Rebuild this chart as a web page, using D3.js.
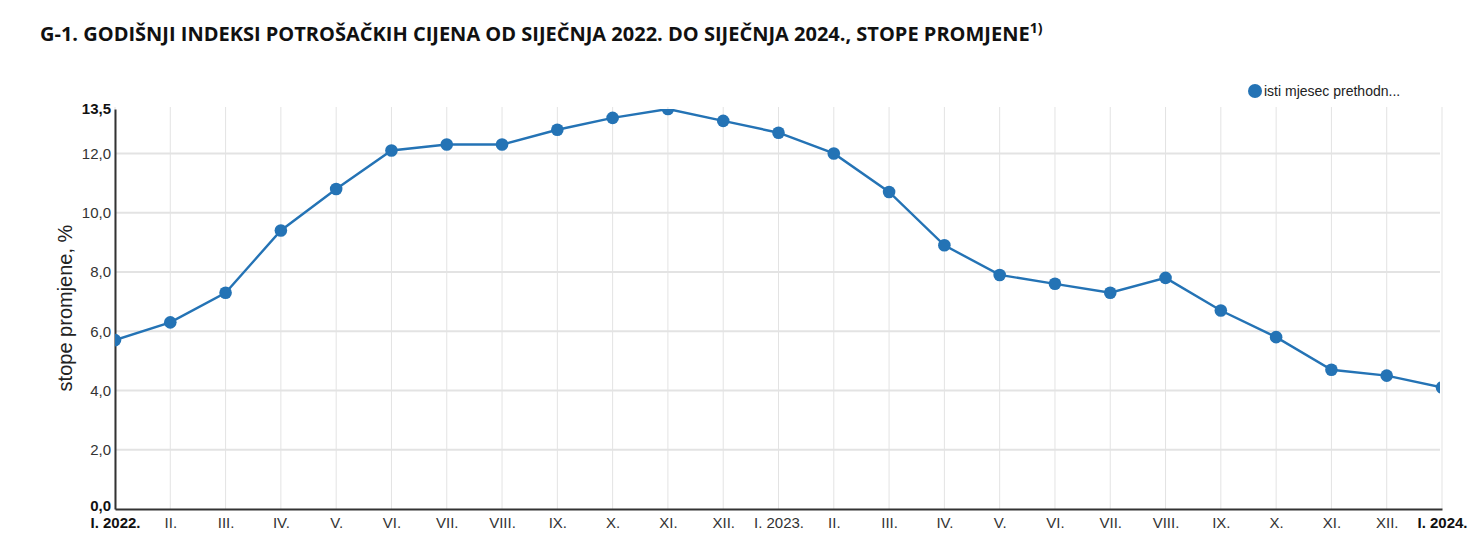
<!DOCTYPE html>
<html>
<head>
<meta charset="utf-8">
<script src="https://cdn.jsdelivr.net/npm/d3@7"></script>
<style>
  body { margin: 0; background: #fff; }
  .title { font-family: "Open Sans", sans-serif; font-weight: 700; font-size: 20px; fill: #111; }
</style>
</head>
<body>
<div id="chart"></div>
<script>
// months from I. 2022. to I. 2024.
const months = ["I. 2022.", "II.", "III.", "IV.", "V.", "VI.", "VII.", "VIII.", "IX.", "X.", "XI.", "XII.",
    "I. 2023.", "II.", "III.", "IV.", "V.", "VI.", "VII.", "VIII.", "IX.", "X.", "XI.", "XII.", "I. 2024."];
// annual rates of change, %
const rates = [5.7, 6.3, 7.3, 9.4, 10.8, 12.1, 12.3, 12.3, 12.8, 13.2, 13.5, 13.1,
    12.7, 12.0, 10.7, 8.9, 7.9, 7.6, 7.3, 7.8, 6.7, 5.8, 4.7, 4.5, 4.1];
const yTicks = [0, 2, 4, 6, 8, 10, 12, 13.5];
const seriesName = "isti mjesec prethodn...";

const W = 1474, H = 550;
const MARGIN = { top: 109, right: 34, bottom: 41, left: 115 },
    WIDTH = W - MARGIN.left - MARGIN.right,
    HEIGHT = H - MARGIN.top - MARGIN.bottom;
const COLOR = "#2473b5";
const FONT = "Liberation Sans, Arial, sans-serif";

const svg = d3.select("#chart").append("svg")
    .attr("width", W)
    .attr("height", H);

// title with superscript
const title = svg.append("text")
    .attr("class", "title")
    .attr("x", 40)
    .attr("y", 41)
    .text("G-1. GODIŠNJI INDEKSI POTROŠAČKIH CIJENA OD SIJEČNJA 2022. DO SIJEČNJA 2024., STOPE PROMJENE");
title.append("tspan")
    .attr("dy", -8)
    .style("font-size", "14px")
    .text("1)");

const g = svg.append("g")
    .attr("transform", "translate(" + MARGIN.left + "," + MARGIN.top + ")");

const x = d3.scalePoint().domain(d3.range(months.length)).range([0, WIDTH + 2]);
const y = d3.scaleLinear().domain([0, 13.5]).range([HEIGHT, 0]);

// vertical grid
g.append("g")
    .selectAll("line")
    .data(d3.range(months.length))
    .join("line")
    .attr("x1", d => x(d)).attr("x2", d => x(d))
    .attr("y1", -2).attr("y2", HEIGHT)
    .attr("stroke", "#e3e3e3")
    .attr("stroke-width", 1);

// horizontal grid
g.append("g")
    .selectAll("line")
    .data(yTicks.filter(d => d > 0 && d < 13.5))
    .join("line")
    .attr("x1", 0).attr("x2", WIDTH)
    .attr("y1", d => y(d)).attr("y2", d => y(d))
    .attr("stroke", "#e3e3e3")
    .attr("stroke-width", 2);

const isEnd = d => d === 0 || d === 13.5;

// Y axis
const yAxis = g.append("g")
    .call(d3.axisLeft(y).tickValues(yTicks).tickSize(0).tickPadding(4)
        .tickFormat(d => d3.format(".1f")(d).replace(".", ",")));
yAxis.select(".domain").attr("stroke", "#333").attr("stroke-width", 2);
yAxis.selectAll(".tick text")
    .style("font-family", FONT)
    .style("font-size", "15px")
    .style("font-weight", d => isEnd(d) ? "700" : "400")
    .style("fill", d => isEnd(d) ? "#111" : "#333")
    .attr("dy", d => d === 0 ? "0.1em" : "0.32em");

// X axis
const last = months.length - 1;
const xAxis = g.append("g")
    .attr("transform", "translate(0," + HEIGHT + ")")
    .call(d3.axisBottom(x).tickSize(0).tickPadding(8).tickFormat(i => months[i]));
xAxis.select(".domain").attr("stroke", "#333").attr("stroke-width", 2);
xAxis.selectAll(".tick text")
    .style("font-family", FONT)
    .style("font-size", "15px")
    .style("font-weight", i => (i === 0 || i === last) ? "700" : "400")
    .style("fill", i => (i === 0 || i === last) ? "#111" : "#333");

// Y axis label
svg.append("text")
    .attr("transform", "rotate(-90)")
    .attr("x", -308)
    .attr("y", 72)
    .style("text-anchor", "middle")
    .style("font-family", FONT)
    .style("font-size", "20px")
    .style("fill", "#222")
    .text("stope promjene, %");

// clipped plot area
svg.append("clipPath").attr("id", "plot-clip")
    .append("rect")
    .attr("x", 0).attr("y", 0).attr("width", WIDTH).attr("height", HEIGHT);

const plot = g.append("g").attr("clip-path", "url(#plot-clip)");

plot.append("path")
    .datum(rates)
    .attr("fill", "none")
    .attr("stroke", COLOR)
    .attr("stroke-width", 2.4)
    .attr("d", d3.line().x((d, i) => x(i)).y(d => y(d)));

plot.selectAll("circle")
    .data(rates)
    .join("circle")
    .attr("cx", (d, i) => x(i))
    .attr("cy", d => y(d))
    .attr("r", 6.3)
    .attr("fill", COLOR);

// legend
svg.append("circle")
    .attr("cx", 1255).attr("cy", 91).attr("r", 7)
    .attr("fill", COLOR);
svg.append("text")
    .attr("x", 1264).attr("y", 96)
    .style("font-family", FONT)
    .style("font-size", "14px")
    .style("fill", "#222")
    .text(seriesName);
</script>
</body>
</html>
